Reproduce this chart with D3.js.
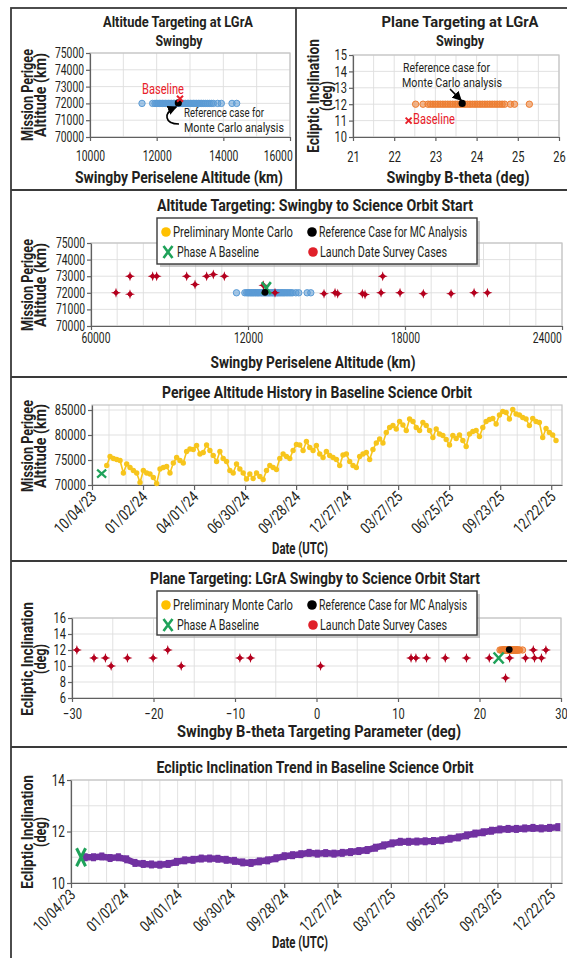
<!DOCTYPE html>
<html>
<head>
<meta charset="utf-8">
<script src="https://cdn.jsdelivr.net/npm/d3@7"></script>
<style>
  body { margin: 0; background: #fff; }
  svg text { font-family: Roboto, "Liberation Sans", "DejaVu Sans", sans-serif; }
</style>
</head>
<body>
<svg id="chart" width="567" height="958"></svg>
<script>
// ---------------- data ----------------
// Preliminary Monte Carlo samples
const mcPeriselene = [11560, 11880, 11950, 12000, 12040, 12090, 12130, 12180, 12220, 12270, 12310,
  12360, 12400, 12450, 12500, 12540, 12590, 12640, 12680, 12730, 12780, 12820, 12870, 12920, 12960,
  13010, 13060, 13110, 13150, 13200, 13250, 13300, 13350, 13400, 13460, 13520, 13580, 13640, 13700,
  13830, 13940, 14260, 14400];
const mcPerigeeTarget = 72000;
const mcBtheta = [22.52, 22.7, 22.82, 22.88, 22.94, 23.0, 23.06, 23.12, 23.18, 23.24, 23.3, 23.36,
  23.42, 23.48, 23.54, 23.6, 23.66, 23.72, 23.78, 23.84, 23.9, 23.96, 24.02, 24.08, 24.14, 24.2,
  24.26, 24.32, 24.38, 24.44, 24.5, 24.56, 24.62, 24.68, 24.82, 24.92, 25.28];
const mcInclinationTarget = 12;

// Reference case for MC analysis
const refPeriselene = 12650, refPerigee = 72030, refBtheta = 23.65, refInclination = 12.05;
// Phase A baseline
const baselinePeriselene = 12700, baselinePerigee = 72280, baselineBtheta = 22.35, baselineInclination = 11.0;
const baselineStart = "2023-10-21";

// Launch date survey cases
const surveyPeriselene = [6955, 7490, 7490, 8357, 8510, 9657, 9975, 10420, 10675, 11096, 12588, 13032,
  14905, 15326, 15428, 16370, 16472, 17084, 17148, 17810, 18700, 19760, 20640, 21150];
const surveyPerigee = [72000, 71920, 73000, 73000, 73000, 73000, 72500, 73000, 73100, 73000, 72450, 72000,
  71950, 72000, 71950, 71950, 71900, 72000, 73000, 72000, 71950, 71950, 72000, 72000];
const surveyBtheta = [-29.4, -27.3, -25.9, -25.2, -23.2, -20.05, -18.25, -16.6, -9.4, -8.1, 0.5, 11.6,
  12.2, 13.5, 15.8, 18.4, 21.2, 23.7, 23.2, 25.65, 26.6, 26.75, 27.6, 28.15];
const surveyInclination = [12, 11, 11, 10, 11, 11, 12, 10, 11, 11, 10, 11,
  11, 11, 11, 11, 11, 11, 8.5, 11, 12, 11, 11, 12];

// Perigee altitude history (km), sampled every perigeeStepDays from perigeeStart
const perigeeStart = "2023-10-30";
const perigeeStepDays = 5.87;
const perigeeAltitude = [73900, 75700, 75300, 75100, 74900, 72400, 74200, 73500, 72900, 72400,
  70500, 72900, 72400, 72200, 71500, 70300, 73200, 73500, 73700, 72400, 74400, 75500, 74900, 74400,
  76700, 77200, 77100, 77900, 76200, 76500, 78000, 76900, 75900, 74700, 76700, 75300, 74700, 72900,
  72400, 74200, 73200, 72400, 71200, 72200, 71300, 72400, 71700, 71100, 72900, 73900, 73500, 73100,
  75300, 76200, 75700, 75300, 76900, 78100, 78000, 76900, 78700, 77500, 76900, 77900, 76200, 75500,
  76700, 75900, 75500, 75100, 73900, 76000, 76200, 74700, 73900, 73500, 75700, 76200, 76500, 75100,
  77100, 78400, 79200, 78400, 80500, 81500, 81900, 81200, 82700, 82000, 80900, 83200, 82700, 81500,
  80900, 82500, 81900, 80900, 79500, 81200, 80200, 79900, 79100, 78000, 79900, 79300, 80000, 78900,
  77700, 80200, 80700, 80900, 79700, 81500, 82700, 83100, 83300, 82200, 84000, 84700, 84500, 83200,
  85100, 84200, 84000, 83500, 83200, 81900, 83300, 82700, 82500, 79500, 81300, 80500, 80000, 78900];

// Ecliptic inclination trend (deg), sampled every inclinationStepDays from inclinationStart
const inclinationStart = "2023-10-28";
const inclinationStepDays = 14;
const inclinationTrend = [11.0, 11.0, 11.03, 10.97, 11.0, 10.92, 10.78, 10.74, 10.72, 10.71, 10.74,
  10.82, 10.88, 10.9, 10.95, 10.95, 10.94, 10.9, 10.86, 10.8, 10.78, 10.84, 10.88, 10.96, 11.04,
  11.08, 11.12, 11.17, 11.14, 11.16, 11.14, 11.17, 11.2, 11.24, 11.28, 11.37, 11.46, 11.54, 11.6,
  11.6, 11.61, 11.62, 11.63, 11.66, 11.72, 11.77, 11.85, 11.92, 11.97, 12.03, 12.08, 12.1, 12.1,
  12.12, 12.14, 12.12, 12.14, 12.17];

// Axis ticks and labels
const altTicksTop = [10000, 12000, 14000, 16000];
const perigeeTicks = [70000, 71000, 72000, 73000, 74000, 75000];
const bthetaTicksTop = [21, 22, 23, 24, 25, 26];
const inclTicksTop = [10, 11, 12, 13, 14, 15];
const altTicksWide = [6000, 12000, 18000, 24000];
const altTickLabelsWide = ["60000", "12000", "18000", "24000"];
const historyTicks = [70000, 75000, 80000, 85000];
const dateTickLabels = ["10/04/23", "01/02/24", "04/01/24", "06/30/24", "09/28/24", "12/27/24",
  "03/27/25", "06/25/25", "09/23/25", "12/22/25"];
const bthetaTicksWide = [-30, -20, -10, 0, 10, 20, 30];
const inclTicksWide = [6, 8, 10, 12, 14, 16];
const inclTrendTicks = [10, 12, 14];

// ---------------- styles ----------------
const C = {
  mcBlue: "#5b9bd5", mcOrange: "#ed7d31", legendOrange: "#ffc000",
  survey: "#b4001e", surveyLegend: "#e0202a", green: "#1fa25a",
  yellow: "#f7c51c", purple: "#7131a1", red: "#e8202a",
  grid: "#dedede", axis: "#606060", frame: "#c4c4c4", border: "#3a3a3a", text: "#231f20"
};
const TICK_SCALE = 0.74;   // horizontal condensing of tick labels

const svg = d3.select("#chart");
const parseDate = d3.utcParse("%m/%d/%y");
const parseIso = d3.utcParse("%Y-%m-%d");

// ---------------- helpers ----------------
// Text drawn at (x, y); w fixes the rendered width, otherwise glyphs are condensed by sx.
function text(x, y, str, o = {}) {
  const t = svg.append("text")
    .attr("x", 0).attr("y", 0)
    .attr("text-anchor", o.anchor || "middle")
    .attr("dominant-baseline", "central")
    .attr("font-size", o.size || 13)
    .attr("font-weight", o.weight || "normal")
    .attr("fill", o.color || C.text)
    .text(str);
  let tr = `translate(${x},${y})`;
  if (o.rotate) tr += ` rotate(${o.rotate})`;
  if (o.w) t.attr("textLength", o.w).attr("lengthAdjust", "spacingAndGlyphs");
  else tr += ` scale(${o.sx || 0.8},1)`;
  t.attr("transform", tr);
  return t;
}

function plotFrame(xs, ys, gx, gy) {
  const [x0, x1] = xs.range(), [y0, y1] = ys.range();
  const g = svg.append("g");
  g.append("rect").attr("x", x0).attr("y", y1).attr("width", x1 - x0).attr("height", y0 - y1)
    .attr("fill", "#fff");
  g.selectAll(".gx").data(gx).join("line")
    .attr("x1", d => xs(d)).attr("x2", d => xs(d)).attr("y1", y0).attr("y2", y1)
    .attr("stroke", C.grid).attr("stroke-width", 0.9);
  g.selectAll(".gy").data(gy).join("line")
    .attr("x1", x0).attr("x2", x1).attr("y1", d => ys(d)).attr("y2", d => ys(d))
    .attr("stroke", C.grid).attr("stroke-width", 0.9);
  g.append("rect").attr("x", x0).attr("y", y1).attr("width", x1 - x0).attr("height", y0 - y1)
    .attr("fill", "none").attr("stroke", C.frame).attr("stroke-width", 1.2);
  return g;
}

function styleAxis(g, size) {
  g.select(".domain").attr("stroke", C.axis).attr("stroke-width", 1.2);
  g.selectAll(".tick line").attr("stroke", C.axis).attr("stroke-width", 1.2);
  g.selectAll(".tick text").attr("font-size", size).attr("fill", C.text).attr("font-family", null)
    .each(function () {
      const el = d3.select(this);
      const ax = +el.attr("x") || 0, ay = +el.attr("y") || 0;
      el.attr("transform", `translate(${ax},${ay}) scale(${TICK_SCALE},1) translate(${-ax},${-ay})`);
    });
}

function leftAxis(ys, x, ticks, fmt, size = 14) {
  const g = svg.append("g").attr("transform", `translate(${x},0)`)
    .call(d3.axisLeft(ys).tickValues(ticks).tickFormat(fmt).tickSize(4).tickSizeOuter(0).tickPadding(2));
  styleAxis(g, size);
  return g;
}

function bottomAxis(xs, y, ticks, fmt, pad, size = 14) {
  const g = svg.append("g").attr("transform", `translate(0,${y})`)
    .call(d3.axisBottom(xs).tickValues(ticks).tickFormat(fmt).tickSize(4).tickSizeOuter(0).tickPadding(pad));
  styleAxis(g, size);
  return g;
}

function dateAxis(xs, y, size = 15.5) {
  const ticks = dateTickLabels.map(parseDate);
  const g = svg.append("g").attr("transform", `translate(0,${y})`)
    .call(d3.axisBottom(xs).tickValues(ticks).tickFormat(d3.utcFormat("%m/%d/%y")).tickSize(5).tickSizeOuter(0));
  g.select(".domain").attr("stroke", C.axis).attr("stroke-width", 1.2);
  g.selectAll(".tick line").attr("stroke", C.axis).attr("stroke-width", 1.2);
  g.selectAll(".tick text").attr("font-size", size).attr("fill", C.text).attr("font-family", null)
    .attr("x", 0).attr("y", 0).attr("dy", "0.35em").attr("text-anchor", "end")
    .attr("transform", "translate(1,9) rotate(-45) scale(0.8,1)");
  return g;
}

function mcDot(x, y, color) {
  svg.append("circle").attr("cx", x).attr("cy", y).attr("r", 3.2)
    .attr("fill", color).attr("fill-opacity", 0.55).attr("stroke", color).attr("stroke-width", 1);
}

const starPath = (() => {
  const r = 5, k = 1.2;
  return `M0,${-r}L${k},${-k}L${r},0L${k},${k}L0,${r}L${-k},${k}L${-r},0L${-k},${-k}Z`;
})();
function surveyMark(x, y) {
  svg.append("path").attr("d", starPath).attr("transform", `translate(${x},${y})`).attr("fill", C.survey);
  svg.append("circle").attr("cx", x).attr("cy", y).attr("r", 2.3).attr("fill", C.survey);
}

function cross(x, y, w, h, color, sw) {
  svg.append("path")
    .attr("d", `M${x - w / 2},${y - h / 2}L${x + w / 2},${y + h / 2}M${x + w / 2},${y - h / 2}L${x - w / 2},${y + h / 2}`)
    .attr("stroke", color).attr("stroke-width", sw).attr("fill", "none");
}

function legend(x, y, w, h) {
  svg.append("rect").attr("x", x + 3).attr("y", y + 3).attr("width", w).attr("height", h)
    .attr("fill", "#9a9a9a").attr("opacity", 0.55);
  svg.append("rect").attr("x", x).attr("y", y).attr("width", w).attr("height", h)
    .attr("fill", "#fff").attr("stroke", C.border).attr("stroke-width", 1.4);
  const r1 = y + 14, r2 = y + 34;
  svg.append("circle").attr("cx", x + 9).attr("cy", r1).attr("r", 4.8).attr("fill", C.legendOrange);
  text(x + 16, r1, "Preliminary Monte Carlo", { anchor: "start", size: 15, w: 120 });
  svg.append("circle").attr("cx", x + 155).attr("cy", r1).attr("r", 4.8).attr("fill", "#000");
  text(x + 162, r1, "Reference Case for MC Analysis", { anchor: "start", size: 15, w: 148 });
  cross(x + 11, r2, 9, 12, C.green, 2.6);
  text(x + 20, r2, "Phase A Baseline", { anchor: "start", size: 15, w: 82 });
  svg.append("circle").attr("cx", x + 156).attr("cy", r2).attr("r", 4.8).attr("fill", C.surveyLegend);
  text(x + 163, r2, "Launch Date Survey Cases", { anchor: "start", size: 15, w: 127 });
}

function axisTitleY(x1, x2, yc, l1, w1, l2, w2) {
  text(x1, yc, l1, { size: 16.5, weight: "bold", rotate: -90, w: w1 });
  text(x2, yc, l2, { size: 16.5, weight: "bold", rotate: -90, w: w2 });
}

const arrowDefs = svg.append("defs");
arrowDefs.append("marker").attr("id", "arrowHead").attr("viewBox", "0 0 10 10")
  .attr("refX", 9).attr("refY", 5).attr("markerWidth", 6).attr("markerHeight", 6)
  .attr("orient", "auto-start-reverse")
  .append("path").attr("d", "M0,0L10,5L0,10Z").attr("fill", "#000");

// ---------------- panel frames ----------------
svg.append("rect").attr("x", 11).attr("y", 8).attr("width", 580).attr("height", 980)
  .attr("fill", "#fff").attr("stroke", C.border).attr("stroke-width", 1.8);
[190, 377, 561, 747].forEach(y => svg.append("line").attr("x1", 11).attr("x2", 567)
  .attr("y1", y).attr("y2", y).attr("stroke", C.border).attr("stroke-width", 1.8));
svg.append("line").attr("x1", 296).attr("x2", 296).attr("y1", 8).attr("y2", 190)
  .attr("stroke", C.border).attr("stroke-width", 1.8);

const fmtInt = d3.format("d");

// ---------------- Panel 1: altitude targeting at LGrA swingby ----------------
{
  const x = d3.scaleLinear().domain([10000, 16000]).range([90, 290]);
  const y = d3.scaleLinear().domain([70000, 75000]).range([137, 53]);
  plotFrame(x, y, d3.range(10000, 16001, 1000), perigeeTicks);
  leftAxis(y, 90, perigeeTicks, fmtInt);
  const bx = bottomAxis(x, 137, altTicksTop, fmtInt, 10);
  bx.selectAll(".tick text").filter(d => d === 16000).attr("text-anchor", "end").attr("dx", 3);
  mcPeriselene.forEach(v => mcDot(x(v), y(mcPerigeeTarget), C.mcBlue));
  svg.append("circle").attr("cx", x(refPeriselene)).attr("cy", y(refPerigee)).attr("r", 3.6).attr("fill", "#000");
  cross(x(baselinePeriselene), y(baselinePerigee), 6, 6, C.red, 2);
  text(163, 89, "Baseline", { size: 14.5, color: C.red, w: 42 });
  text(184, 112, "Reference case for", { anchor: "start", size: 12.5, w: 80 });
  text(184, 127, "Monte Carlo analysis", { anchor: "start", size: 12.5, w: 100 });
  svg.append("path").attr("d", `M179,124 C165,124 162,113 ${x(refPeriselene) - 2},${y(refPerigee) + 4}`)
    .attr("fill", "none").attr("stroke", "#000").attr("stroke-width", 1.6).attr("marker-end", "url(#arrowHead)");
  text(178, 22, "Altitude Targeting at LGrA", { size: 15.5, weight: "bold", w: 150 });
  text(179, 41, "Swingby", { size: 15.5, weight: "bold", w: 47 });
  text(179, 177, "Swingby Periselene Altitude (km)", { size: 16.5, weight: "bold", w: 208 });
  axisTitleY(27, 40, 95, "Mission Perigee", 92, "Altitude (km)", 84);
}

// ---------------- Panel 2: plane targeting at LGrA swingby ----------------
{
  const x = d3.scaleLinear().domain([21, 26]).range([353, 559]);
  const y = d3.scaleLinear().domain([10, 15]).range([137, 55]);
  plotFrame(x, y, d3.range(21, 26.01, 0.5), inclTicksTop);
  leftAxis(y, 353, inclTicksTop, fmtInt, 15);
  bottomAxis(x, 137, bthetaTicksTop, fmtInt, 10, 15);
  mcBtheta.forEach(v => mcDot(x(v), y(mcInclinationTarget), C.mcOrange));
  svg.append("circle").attr("cx", x(refBtheta)).attr("cy", y(refInclination)).attr("r", 3.6).attr("fill", "#000");
  cross(x(baselineBtheta), y(baselineInclination), 6, 6, C.red, 2);
  text(413, 119, "Baseline", { anchor: "start", size: 14.5, color: C.red, w: 42 });
  text(403, 67, "Reference case for", { anchor: "start", size: 12.5, w: 87 });
  text(402, 82, "Monte Carlo analysis", { anchor: "start", size: 12.5, w: 100 });
  svg.append("line").attr("x1", 450).attr("y1", 89).attr("x2", x(refBtheta) - 1).attr("y2", y(refInclination) - 3)
    .attr("stroke", "#000").attr("stroke-width", 1.6).attr("marker-end", "url(#arrowHead)");
  text(460, 22, "Plane Targeting at LGrA", { size: 15.5, weight: "bold", w: 157 });
  text(460, 41, "Swingby", { size: 15.5, weight: "bold", w: 48 });
  text(458, 177, "Swingby B-theta (deg)", { size: 16.5, weight: "bold", w: 143 });
  axisTitleY(313, 326, 96, "Ecliptic Inclination", 114, "(deg)", 30);
}

// ---------------- Panel 3: altitude targeting, swingby to science orbit start ----------------
{
  const x = d3.scaleLinear().domain([6000, 24000]).range([91, 562]);
  const y = d3.scaleLinear().domain([70000, 75000]).range([326, 243]);
  plotFrame(x, y, d3.range(6000, 24001, 1000), perigeeTicks);
  leftAxis(y, 91, perigeeTicks, fmtInt);
  const bx = bottomAxis(x, 326, altTicksWide, (d, i) => altTickLabelsWide[i], 3);
  bx.selectAll(".tick text").filter(d => d === 6000).attr("dx", 6);
  bx.selectAll(".tick text").filter(d => d === 24000).attr("text-anchor", "end").attr("dx", -1);
  mcPeriselene.forEach(v => mcDot(x(v), y(mcPerigeeTarget), C.mcBlue));
  surveyPeriselene.forEach((v, i) => surveyMark(x(v), y(surveyPerigee[i])));
  cross(x(baselinePeriselene), y(baselinePerigee), 9, 12, C.green, 2.6);
  svg.append("circle").attr("cx", x(refPeriselene)).attr("cy", y(refPerigee)).attr("r", 3.4).attr("fill", "#000");
  legend(157, 218, 320, 46);
  text(315, 205, "Altitude Targeting: Swingby to Science Orbit Start", { size: 16.5, weight: "bold", w: 316 });
  text(313, 362, "Swingby Periselene Altitude (km)", { size: 16.5, weight: "bold", w: 205 });
  axisTitleY(27, 40, 285, "Mission Perigee", 92, "Altitude (km)", 84);
}

// ---------------- Panel 4: perigee altitude history ----------------
{
  const x = d3.scaleUtc().domain([parseIso("2023-10-04"), parseIso("2026-01-10")]).range([92, 562]);
  const y = d3.scaleLinear().domain([70000, 86000]).range([485, 405]);
  const t0 = parseIso("2023-10-04");
  plotFrame(x, y, d3.range(0, 829, 30).map(d => d3.utcDay.offset(t0, d)), historyTicks);
  leftAxis(y, 92, historyTicks, fmtInt, 15);
  dateAxis(x, 485);
  const start = parseIso(perigeeStart);
  const pts = perigeeAltitude.map((v, i) => [x(new Date(+start + i * perigeeStepDays * 864e5)), y(v)]);
  svg.append("path").attr("d", d3.line()(pts)).attr("fill", "none")
    .attr("stroke", C.yellow).attr("stroke-width", 1.6);
  pts.forEach(p => svg.append("circle").attr("cx", p[0]).attr("cy", p[1]).attr("r", 2.7).attr("fill", C.yellow));
  cross(x(parseIso(baselineStart)), y(baselinePerigee), 9, 8, C.green, 2.2);
  text(317, 392, "Perigee Altitude History in Baseline Science Orbit", { size: 16.5, weight: "bold", w: 310 });
  text(300, 548, "Date (UTC)", { size: 16.5, weight: "bold", w: 56 });
  axisTitleY(27, 40, 446, "Mission Perigee", 92, "Altitude (km)", 84);
}

// ---------------- Panel 5: plane targeting, swingby to science orbit start ----------------
{
  const x = d3.scaleLinear().domain([-30, 30]).range([72, 561]);
  const y = d3.scaleLinear().domain([6, 16]).range([698, 618]);
  plotFrame(x, y, d3.range(-30, 30.1, 5), inclTicksWide);
  leftAxis(y, 72, inclTicksWide, fmtInt, 15);
  bottomAxis(x, 698, bthetaTicksWide, fmtInt, 6, 15);
  surveyBtheta.forEach((v, i) => surveyMark(x(v), y(surveyInclination[i])));
  mcBtheta.forEach(v => mcDot(x(v), y(mcInclinationTarget), C.mcOrange));
  cross(x(baselineBtheta), y(baselineInclination), 10, 11, C.green, 2.6);
  svg.append("circle").attr("cx", x(refBtheta)).attr("cy", y(refInclination)).attr("r", 3.4).attr("fill", "#000");
  legend(157, 591, 320, 44);
  text(315, 578, "Plane Targeting: LGrA Swingby to Science Orbit Start", { size: 16.5, weight: "bold", w: 330 });
  text(319, 731, "Swingby B-theta Targeting Parameter (deg)", { size: 16.5, weight: "bold", w: 284 });
  axisTitleY(27, 40, 659, "Ecliptic Inclination", 114, "(deg)", 30);
}

// ---------------- Panel 6: ecliptic inclination trend ----------------
{
  const x = d3.scaleUtc().domain([parseIso("2023-10-04"), parseIso("2026-01-10")]).range([71, 562]);
  const y = d3.scaleLinear().domain([10, 14]).range([883, 780]);
  const t0 = parseIso("2023-10-04");
  plotFrame(x, y, d3.range(0, 829, 30).map(d => d3.utcDay.offset(t0, d)), [10, 11, 12, 13, 14]);
  leftAxis(y, 71, inclTrendTicks, fmtInt, 16);
  dateAxis(x, 883);
  const start = parseIso(inclinationStart);
  const pts = inclinationTrend.map((v, i) => [x(d3.utcDay.offset(start, i * inclinationStepDays)), y(v)]);
  svg.append("path").attr("d", d3.line()(pts)).attr("fill", "none")
    .attr("stroke", C.purple).attr("stroke-width", 6.5);
  pts.forEach(p => svg.append("rect").attr("x", p[0] - 2.5).attr("y", p[1] - 4).attr("width", 5).attr("height", 8)
    .attr("fill", C.purple));
  cross(x(parseIso(baselineStart)), y(baselineInclination), 9, 18, C.green, 3);
  text(315, 767, "Ecliptic Inclination Trend in Baseline Science Orbit", { size: 16.5, weight: "bold", w: 317 });
  text(300, 942, "Date (UTC)", { size: 16.5, weight: "bold", w: 56 });
  axisTitleY(27, 40, 832, "Ecliptic Inclination", 114, "(deg)", 30);
}
</script>
</body>
</html>
